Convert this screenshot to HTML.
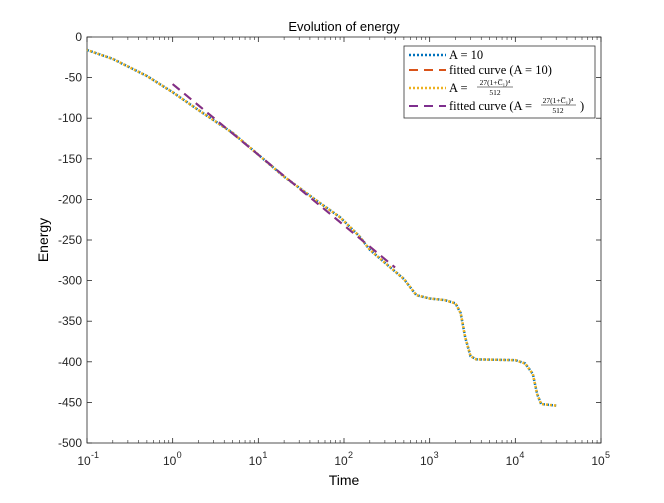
<!DOCTYPE html>
<html><head><meta charset="utf-8"><style>
body{margin:0;background:#fff}
svg text{font-family:"Liberation Sans",sans-serif}
.serif{font-family:"Liberation Serif",serif}
</style></head><body>
<svg id="c" width="664" height="498" viewBox="0 0 664 498">
<rect width="664" height="498" fill="#fff"/>
<g id="axes"></g>
<g id="marks"></g>
<text x="344" y="31" font-size="13" text-anchor="middle">Evolution of energy</text>
<text x="344" y="485" font-size="14" text-anchor="middle">Time</text>
<text x="0" y="0" font-size="14" text-anchor="middle" transform="translate(48,240) rotate(-90)">Energy</text>
<g>
<rect x="404" y="46" width="191" height="72" fill="#fff" stroke="#333" stroke-width="0.8"/>
<line x1="409" y1="55" x2="446" y2="55" stroke="#0072BD" stroke-width="2.5" stroke-dasharray="2,2"/>
<text x="449" y="59" font-size="12.5" class="serif">A = 10</text>
<line x1="409" y1="70" x2="446" y2="70" stroke="#D95319" stroke-width="2" stroke-dasharray="9,6"/>
<text x="449" y="74" font-size="12.5" class="serif">fitted curve (A = 10)</text>
<line x1="409" y1="88" x2="446" y2="88" stroke="#EDB120" stroke-width="2.5" stroke-dasharray="2,2"/>
<text x="449" y="92" font-size="12.5" class="serif">A =</text>
<text x="495" y="85" font-size="7.5" class="serif" text-anchor="middle">27(1+C̅₁)⁴</text>
<line x1="477" y1="87" x2="513" y2="87" stroke="#000" stroke-width="0.5"/>
<text x="495" y="95" font-size="7.5" class="serif" text-anchor="middle">512</text>
<line x1="409" y1="106" x2="446" y2="106" stroke="#7E2F8E" stroke-width="2" stroke-dasharray="9,6"/>
<text x="449" y="110" font-size="12.5" class="serif">fitted curve (A =</text>
<text x="558" y="103" font-size="7.5" class="serif" text-anchor="middle">27(1+C̅₁)⁴</text>
<line x1="541" y1="105" x2="576" y2="105" stroke="#000" stroke-width="0.5"/>
<text x="558" y="113" font-size="7.5" class="serif" text-anchor="middle">512</text>
<text x="580" y="110" font-size="12.5" class="serif">)</text>
</g>
</svg>
<script>
const times=[0.1,0.2,0.5,1,2,5,10,20,50,90,150,200,300,500,700,1000,1500,2000,2300,2600,3000,3500,10000,13000,16000,18000,20000,30000];
const energies=[-16,-27,-48,-68,-90,-118,-145,-172,-203,-222,-245,-262,-278,-298,-318,-322,-324,-328,-340,-370,-393,-397,-398,-402,-415,-440,-452,-454];
const fitT=[1,394];
const fitA=-58, fitB=-87;
const yTicks=[0,-50,-100,-150,-200,-250,-300,-350,-400,-450,-500];
const xDecades=[-1,0,1,2,3,4,5];
const L=87,R=601,T=37,B=443;
const xs=t=>L+(Math.log10(t)+1)*(R-L)/6;
const ys=v=>T+(0-v)*(B-T)/500;
const NS="http://www.w3.org/2000/svg";
function mk(tag,attrs,parent){const e=document.createElementNS(NS,tag);for(const k in attrs)e.setAttribute(k,attrs[k]);parent.appendChild(e);return e;}
const ax=document.getElementById('axes'),mg=document.getElementById('marks');
const box=mk('rect',{x:L,y:T,width:R-L,height:B-T,fill:'none',stroke:'#262626','stroke-width':0.8},ax);


yTicks.forEach(v=>{const y=ys(v);
mk('line',{x1:L,x2:L+5,y1:y,y2:y,stroke:'#262626','stroke-width':0.8},ax);
mk('line',{x1:R,x2:R-5,y1:y,y2:y,stroke:'#262626','stroke-width':0.8},ax);
const t=mk('text',{x:L-5,y:y+4,'font-size':12,'text-anchor':'end',fill:'#262626'},ax);t.textContent=v;

});
xDecades.forEach(d=>{const x=xs(Math.pow(10,d));
mk('line',{x1:x,x2:x,y1:B,y2:B-5,stroke:'#262626','stroke-width':0.8},ax);
mk('line',{x1:x,x2:x,y1:T,y2:T+5,stroke:'#262626','stroke-width':0.8},ax);
if(d<5)for(let m=2;m<10;m++){const xm=xs(m*Math.pow(10,d));
mk('line',{x1:xm,x2:xm,y1:B,y2:B-3,stroke:'#262626','stroke-width':0.6},ax);
mk('line',{x1:xm,x2:xm,y1:T,y2:T+3,stroke:'#262626','stroke-width':0.6},ax);}
const t=mk('text',{x:x-3,y:B+22,'font-size':12,'text-anchor':'middle',fill:'#262626'},ax);t.textContent='10';


const s=mk('text',{x:x+4,y:B+15,'font-size':9,'text-anchor':'start',fill:'#262626'},ax);s.textContent=d;});
const pts=times.map((t,i)=>xs(t)+','+ys(energies[i])).join(' ');
const s1=mk('polyline',{points:pts,fill:'none',stroke:'#0072BD','stroke-width':2.5,'stroke-dasharray':'2,2'},mg);


const fpts=fitT.map(t=>xs(t)+','+ys(fitA+fitB*Math.log10(t))).join(' ');
const f1=mk('polyline',{points:fpts,fill:'none',stroke:'#D95319','stroke-width':2,'stroke-dasharray':'9,6'},mg);


const s2=mk('polyline',{points:pts,fill:'none',stroke:'#EDB120','stroke-width':2.5,'stroke-dasharray':'2,2','stroke-dashoffset':1},mg);


const f2=mk('polyline',{points:fpts,fill:'none',stroke:'#7E2F8E','stroke-width':2,'stroke-dasharray':'9,6'},mg);


</script>
</body></html>
